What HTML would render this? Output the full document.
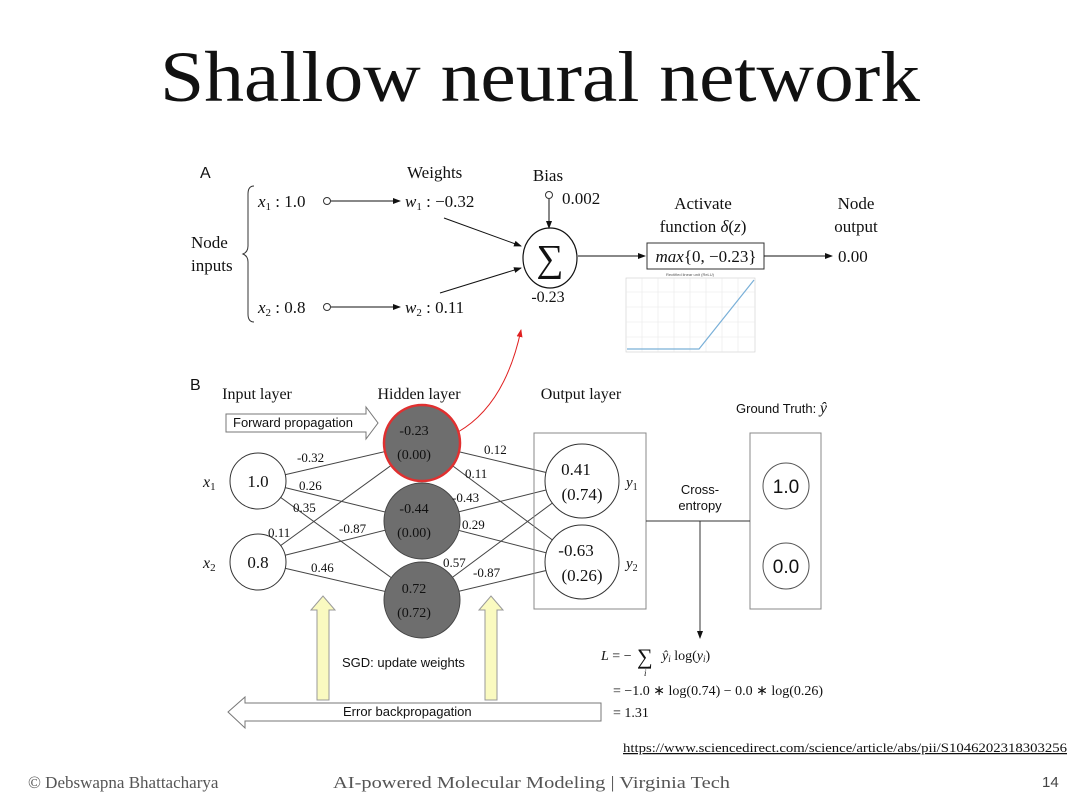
<!DOCTYPE html>
<html><head><meta charset="utf-8"><style>
html,body{margin:0;padding:0;background:#fff;}
svg{display:block;}
.s{font-family:"Liberation Serif",serif;fill:#111;}
.a{font-family:"Liberation Sans",sans-serif;fill:#111;}
</style></head><body>
<svg width="1080" height="810" viewBox="0 0 1080 810" xmlns="http://www.w3.org/2000/svg">
<defs>
<marker id="ah" markerWidth="8" markerHeight="8" refX="7" refY="4" orient="auto" markerUnits="userSpaceOnUse"><path d="M0,1 L8,4 L0,7z" fill="#111"/></marker>
<marker id="rh" markerWidth="8" markerHeight="8" refX="7" refY="4" orient="auto" markerUnits="userSpaceOnUse"><path d="M0,1 L8,4 L0,7z" fill="#e02020"/></marker>
</defs>
<rect width="1080" height="810" fill="#fff"/>
<text class="s" x="160" y="101" font-size="72" textLength="760" lengthAdjust="spacingAndGlyphs">Shallow neural network</text>

<!-- Part A -->
<text class="a" x="200" y="178" font-size="16">A</text>
<path d="M254,186 Q248,186 248,194 L248,246 Q248,252 243,254 Q248,256 248,262 L248,314 Q248,322 254,322" fill="none" stroke="#333" stroke-width="1"/>
<text class="s" x="191" y="248" font-size="17">Node</text>
<text class="s" x="191" y="271" font-size="17">inputs</text>
<text class="s" x="407" y="178" font-size="17">Weights</text>
<text class="s" x="258" y="207" font-size="17"><tspan font-style="italic">x</tspan><tspan font-size="11" dy="3">1</tspan><tspan dy="-3"> : 1.0</tspan></text>
<circle cx="327" cy="201" r="3.5" fill="#fff" stroke="#333"/>
<line x1="331" y1="201" x2="400" y2="201" stroke="#111" marker-end="url(#ah)"/>
<text class="s" x="405" y="207" font-size="17"><tspan font-style="italic">w</tspan><tspan font-size="11" dy="3">1</tspan><tspan dy="-3"> : −0.32</tspan></text>
<text class="s" x="258" y="313" font-size="17"><tspan font-style="italic">x</tspan><tspan font-size="11" dy="3">2</tspan><tspan dy="-3"> : 0.8</tspan></text>
<circle cx="327" cy="307" r="3.5" fill="#fff" stroke="#333"/>
<line x1="331" y1="307" x2="400" y2="307" stroke="#111" marker-end="url(#ah)"/>
<text class="s" x="405" y="313" font-size="17"><tspan font-style="italic">w</tspan><tspan font-size="11" dy="3">2</tspan><tspan dy="-3"> : 0.11</tspan></text>
<line x1="444" y1="218" x2="521" y2="246" stroke="#111" marker-end="url(#ah)"/>
<line x1="440" y1="293" x2="521" y2="268" stroke="#111" marker-end="url(#ah)"/>
<ellipse cx="550" cy="258" rx="27" ry="30" fill="#fff" stroke="#111" stroke-width="1.2"/>
<text class="s" x="550" y="271" font-size="38" text-anchor="middle">∑</text>
<text class="s" x="548" y="181" font-size="17" text-anchor="middle">Bias</text>
<circle cx="549" cy="195" r="3.5" fill="#fff" stroke="#333"/>
<line x1="549" y1="199" x2="549" y2="228" stroke="#111" marker-end="url(#ah)"/>
<text class="s" x="562" y="204" font-size="17">0.002</text>
<text class="s" x="548" y="302" font-size="16" text-anchor="middle">-0.23</text>
<line x1="578" y1="256" x2="645" y2="256" stroke="#111" marker-end="url(#ah)"/>
<text class="s" x="703" y="209" font-size="17" text-anchor="middle">Activate</text>
<text class="s" x="703" y="232" font-size="17" text-anchor="middle">function <tspan font-style="italic">δ</tspan>(<tspan font-style="italic">z</tspan>)</text>
<rect x="647" y="243" width="117" height="26" fill="#fff" stroke="#333"/>
<text class="s" x="706" y="262" font-size="17" text-anchor="middle"><tspan font-style="italic">max</tspan>{0, −0.23}</text>
<line x1="764" y1="256" x2="832" y2="256" stroke="#111" marker-end="url(#ah)"/>
<text class="s" x="856" y="209" font-size="17" text-anchor="middle">Node</text>
<text class="s" x="856" y="232" font-size="17" text-anchor="middle">output</text>
<text class="s" x="838" y="262" font-size="17">0.00</text>
<!-- small plot -->
<g stroke="#e8e8e8" stroke-width="0.6">
<rect x="626" y="278" width="129" height="74" fill="#fff" stroke="#ccc"/>
<line x1="642" y1="278" x2="642" y2="352"/><line x1="658" y1="278" x2="658" y2="352"/><line x1="674" y1="278" x2="674" y2="352"/><line x1="690" y1="278" x2="690" y2="352"/><line x1="706" y1="278" x2="706" y2="352"/><line x1="722" y1="278" x2="722" y2="352"/><line x1="738" y1="278" x2="738" y2="352"/>
<line x1="626" y1="292" x2="755" y2="292"/><line x1="626" y1="307" x2="755" y2="307"/><line x1="626" y1="322" x2="755" y2="322"/><line x1="626" y1="337" x2="755" y2="337"/>
</g>
<polyline points="627,349 699,349 754,280" fill="none" stroke="#7ab0d8" stroke-width="1.2"/>
<text x="690" y="276" font-size="4" text-anchor="middle" fill="#555" font-family="Liberation Sans,sans-serif">Rectified linear unit (ReLU)</text>

<!-- red arrow -->
<path d="M458,432 Q505,405 521,330" fill="none" stroke="#e02020" stroke-width="1" marker-end="url(#rh)"/>

<!-- Part B -->
<text class="a" x="190" y="390" font-size="16">B</text>
<text class="s" x="257" y="399" font-size="16" text-anchor="middle">Input layer</text>
<text class="s" x="419" y="399" font-size="16" text-anchor="middle">Hidden layer</text>
<text class="s" x="581" y="399" font-size="16" text-anchor="middle">Output layer</text>
<text class="a" x="736" y="413" font-size="13">Ground Truth: <tspan font-family="Liberation Serif" font-style="italic" font-size="16">ŷ</tspan></text>
<path d="M226,414 L366,414 L366,407 L378,423 L366,439 L366,432 L226,432 Z" fill="#fff" stroke="#777"/>
<text class="a" x="233" y="427" font-size="13">Forward propagation</text>
<g stroke="#444" stroke-width="1">
<line x1="258" y1="481" x2="422" y2="443"/><line x1="258" y1="481" x2="422" y2="521"/><line x1="258" y1="481" x2="422" y2="600"/>
<line x1="258" y1="562" x2="422" y2="443"/><line x1="258" y1="562" x2="422" y2="521"/><line x1="258" y1="562" x2="422" y2="600"/>
<line x1="422" y1="443" x2="582" y2="481"/><line x1="422" y1="443" x2="582" y2="562"/>
<line x1="422" y1="521" x2="582" y2="481"/><line x1="422" y1="521" x2="582" y2="562"/>
<line x1="422" y1="600" x2="582" y2="481"/><line x1="422" y1="600" x2="582" y2="562"/>
</g>
<rect x="534" y="433" width="112" height="176" fill="none" stroke="#888"/>
<rect x="750" y="433" width="71" height="176" fill="#fff" stroke="#888"/>
<circle cx="258" cy="481" r="28" fill="#fff" stroke="#333"/>
<circle cx="258" cy="562" r="28" fill="#fff" stroke="#333"/>
<text class="s" x="258" y="487" font-size="17" text-anchor="middle">1.0</text>
<text class="s" x="258" y="568" font-size="17" text-anchor="middle">0.8</text>
<text class="s" x="203" y="487" font-size="16" font-style="italic">x<tspan font-size="11" dy="3" font-style="normal">1</tspan></text>
<text class="s" x="203" y="568" font-size="16" font-style="italic">x<tspan font-size="11" dy="3" font-style="normal">2</tspan></text>
<circle cx="422" cy="443" r="38" fill="#6e6e6e" stroke="#e03030" stroke-width="2.5"/>
<circle cx="422" cy="521" r="38" fill="#6e6e6e" stroke="#444"/>
<circle cx="422" cy="600" r="38" fill="#6e6e6e" stroke="#444"/>
<g class="s" font-size="14" text-anchor="middle">
<text x="414" y="435">-0.23</text><text x="414" y="459">(0.00)</text>
<text x="414" y="513">-0.44</text><text x="414" y="537">(0.00)</text>
<text x="414" y="593">0.72</text><text x="414" y="617">(0.72)</text>
</g>
<circle cx="582" cy="481" r="37" fill="#fff" stroke="#333"/>
<circle cx="582" cy="562" r="37" fill="#fff" stroke="#333"/>
<g class="s" font-size="17" text-anchor="middle">
<text x="576" y="475">0.41</text><text x="582" y="500">(0.74)</text>
<text x="576" y="556">-0.63</text><text x="582" y="581">(0.26)</text>
</g>
<text class="s" x="626" y="487" font-size="15" font-style="italic">y<tspan font-size="10" dy="3" font-style="normal">1</tspan></text>
<text class="s" x="626" y="568" font-size="15" font-style="italic">y<tspan font-size="10" dy="3" font-style="normal">2</tspan></text>
<g class="s" font-size="13">
<text x="297" y="462">-0.32</text><text x="299" y="490">0.26</text><text x="293" y="512">0.35</text>
<text x="268" y="537">0.11</text><text x="339" y="533">-0.87</text><text x="311" y="572">0.46</text>
<text x="484" y="454">0.12</text><text x="465" y="478">0.11</text><text x="452" y="502">-0.43</text>
<text x="462" y="529">0.29</text><text x="443" y="567">0.57</text><text x="473" y="577">-0.87</text>
</g>
<line x1="646" y1="521" x2="750" y2="521" stroke="#333"/>
<line x1="700" y1="521" x2="700" y2="638" stroke="#333" marker-end="url(#ah)"/>
<text class="a" x="700" y="494" font-size="13" text-anchor="middle">Cross-</text>
<text class="a" x="700" y="510" font-size="13" text-anchor="middle">entropy</text>
<circle cx="786" cy="486" r="23" fill="#fff" stroke="#555"/>
<circle cx="786" cy="566" r="23" fill="#fff" stroke="#555"/>
<text class="a" x="786" y="493" font-size="19" text-anchor="middle">1.0</text>
<text class="a" x="786" y="573" font-size="19" text-anchor="middle">0.0</text>
<path d="M317,700 L317,610 L311,610 L323,596 L335,610 L329,610 L329,700 Z" fill="#fafac0" stroke="#999"/>
<path d="M485,700 L485,610 L479,610 L491,596 L503,610 L497,610 L497,700 Z" fill="#fafac0" stroke="#999"/>
<text class="a" x="342" y="667" font-size="13">SGD: update weights</text>
<path d="M601,703 L245,703 L245,697 L228,712 L245,728 L245,721 L601,721 Z" fill="#fff" stroke="#777"/>
<text class="a" x="343" y="716" font-size="13">Error backpropagation</text>
<g class="s" font-size="14">
<text x="601" y="660"><tspan font-style="italic">L</tspan> = −</text>
<text x="637" y="664" font-size="22">∑</text>
<text x="644" y="676" font-size="9" font-style="italic">i</text>
<text x="662" y="660"><tspan font-style="italic">ŷ<tspan font-size="9" dy="2">i</tspan></tspan><tspan dy="-2"> log(</tspan><tspan font-style="italic">y<tspan font-size="9" dy="2">i</tspan></tspan><tspan dy="-2">)</tspan></text>
<text x="613" y="695">= −1.0 ∗ log(0.74) − 0.0 ∗ log(0.26)</text>
<text x="613" y="717">= 1.31</text>
</g>
<text class="s" x="623" y="752" font-size="12.5" textLength="444" lengthAdjust="spacingAndGlyphs" text-decoration="underline">https://www.sciencedirect.com/science/article/abs/pii/S1046202318303256</text>
<text class="s" x="28" y="788" font-size="17" style="fill:#555">© Debswapna Bhattacharya</text>
<text class="s" x="333" y="788" font-size="17" style="fill:#555" textLength="397" lengthAdjust="spacingAndGlyphs">AI-powered Molecular Modeling | Virginia Tech</text>
<text class="a" x="1042" y="787" font-size="15" style="fill:#444">14</text>
</svg>
</body></html>
